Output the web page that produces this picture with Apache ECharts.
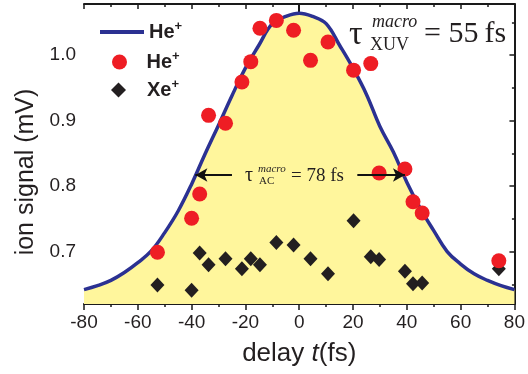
<!DOCTYPE html>
<html>
<head>
<meta charset="utf-8">
<script src="https://cdn.jsdelivr.net/npm/echarts@6/dist/echarts.min.js"></script>
<style>html,body{margin:0;padding:0;background:#fff;}#c{width:528px;height:374px;}</style>
</head>
<body>
<div id="c"></div>
<script>
// Fitted curve (He+ autocorrelation)
var curveT = [-80,-75,-70,-65,-60,-55,-50,-45,-40,-35,-30,-25,-20,-15,-10,-5,0,5,10,15,20,25,30,35,40,45,50,55,60,65,70,75,80];
var curveV = [0.642,0.648,0.656,0.668,0.683,0.701,0.729,0.762,0.803,0.849,0.893,0.938,0.980,1.015,1.048,1.059,1.064,1.059,1.048,1.015,0.980,0.940,0.891,0.852,0.806,0.766,0.732,0.700,0.681,0.666,0.656,0.648,0.642];
// Measured data
var delays = [-52.7,-40,-37,-33.7,-27.4,-21.3,-18,-14.6,-8.5,-2.1,4.2,10.7,20.2,26.6,29.7,39.3,42.3,45.7,74.2];
var heVals = [0.699,0.751,0.788,0.908,0.896,0.959,0.990,1.041,1.053,1.038,0.992,1.020,0.977,0.987,0.820,0.826,0.776,0.759,0.686];
var xeVals = [0.649,0.641,0.698,0.680,0.689,0.674,0.689,0.680,0.714,0.710,0.689,0.666,0.747,0.692,0.688,0.670,0.651,0.652,0.674];
var yMajor = [0.7,0.8,0.9,1.0];
var yMinor = [0.65,0.75,0.85,0.95,1.05];
var arrowLevel = 0.817;

var yMin = 0.62, yMax = 1.078;
var SANS = 'Liberation Sans, Arial, sans-serif';
var SERIF = 'Liberation Serif, Times New Roman, serif';

function pairs(a,b){return a.map(function(v,i){return [v,b[i]];});}

var chart = echarts.init(document.getElementById('c'), null, {renderer:'canvas'});
var lineBlack = {show:true, lineStyle:{color:'#1a1a1a', width:2}};
var legText = {fontFamily:SANS, fontWeight:'bold', fontSize:20, color:'#231f20',
  rich:{b:{fontFamily:SANS, fontWeight:'bold', fontSize:20, color:'#231f20'},
        s:{fontFamily:SANS, fontWeight:'bold', fontSize:13, color:'#231f20', padding:[0,0,11,0]}}};
function legFmt(n){return n==='Xe' ? '{b|Xe}{s|+}' : '{b|He}{s|+}';}
var option = {
  animation:false,
  grid:{left:84, right:12, top:4, bottom:70},
  legend:[
    {left:93, top:15, itemWidth:44, itemHeight:15,
     data:[{name:'HeFit', itemStyle:{opacity:0}, lineStyle:{width:4, color:'#2b3192'}}],
     textStyle:legText, formatter:legFmt},
    {left:107, top:45, itemWidth:44, itemHeight:15, data:['He'], textStyle:legText, formatter:legFmt},
    {left:106, top:73, itemWidth:15, itemHeight:15, data:['Xe'],
     textStyle:Object.assign({}, legText, {padding:[0,0,0,16]}), formatter:legFmt}
  ],
  xAxis:[
    {type:'value', min:-80, max:80, interval:20, position:'bottom',
     axisLine:lineBlack, splitLine:{show:false},
     axisTick:{show:true, inside:false, length:6, lineStyle:{color:'#1a1a1a', width:1.5}},
     minorTick:{show:true, splitNumber:2, length:3, lineStyle:{color:'#1a1a1a', width:1.5}},
     axisLabel:{fontFamily:SANS, fontSize:19, color:'#231f20', margin:9},
     name:'{n|delay }{i|t}{n|(fs)}', nameLocation:'middle', nameGap:37,
     nameTextStyle:{rich:{n:{fontFamily:SANS, fontSize:26, color:'#231f20'}, i:{fontFamily:SANS, fontStyle:'italic', fontSize:26, color:'#231f20'}}}
    },
    {type:'value', min:-80, max:80, interval:20, position:'top',
     axisLine:lineBlack, splitLine:{show:false},
     axisTick:{show:true, inside:true, length:5, lineStyle:{color:'#1a1a1a', width:1.5}},
     minorTick:{show:true, splitNumber:2, length:3, lineStyle:{color:'#1a1a1a', width:1.5}},
     axisLabel:{show:false}}
  ],
  yAxis:[
    {type:'value', min:yMin, max:yMax, position:'left',
     axisLine:lineBlack, splitLine:{show:false},
     axisTick:{show:true, inside:false, length:5, customValues:yMajor, lineStyle:{color:'#1a1a1a', width:1.5}},
     axisLabel:{customValues:yMajor, fontFamily:SANS, fontSize:19, color:'#231f20', margin:8,
       formatter:function(v){return v.toFixed(1);}},
     name:'ion signal (mV)', nameLocation:'middle', nameRotate:90, nameGap:33,
     nameTextStyle:{fontFamily:SANS, fontSize:25, color:'#231f20', padding:[0,36,0,0]}
    },
    {type:'value', min:yMin, max:yMax, position:'left',
     axisLine:{show:false}, splitLine:{show:false},
     axisTick:{show:true, inside:false, length:2.5, customValues:yMinor, lineStyle:{color:'#1a1a1a', width:1.5}},
     axisLabel:{show:false}},
    {type:'value', min:yMin, max:yMax, position:'right',
     axisLine:lineBlack, splitLine:{show:false},
     axisTick:{show:true, inside:true, length:5, customValues:yMajor, lineStyle:{color:'#1a1a1a', width:1.5}},
     axisLabel:{show:false}},
    {type:'value', min:yMin, max:yMax, position:'right',
     axisLine:{show:false}, splitLine:{show:false},
     axisTick:{show:true, inside:true, length:2.5, customValues:yMinor, lineStyle:{color:'#1a1a1a', width:1.5}},
     axisLabel:{show:false}}
  ],
  series:[
    {name:'HeFit', type:'line', data:pairs(curveT,curveV), smooth:0.4, symbol:'none', z:1,
     lineStyle:{color:'#2b3192', width:3.5}, itemStyle:{color:'#2b3192'},
     areaStyle:{color:'#fff69c', opacity:1, origin:'start'},
     markLine:{silent:true, symbol:['none','arrow'], symbolSize:[10,12], label:{show:false},
       lineStyle:{color:'#111', width:2, type:'solid'},
       data:[[{coord:[-25,arrowLevel]},{coord:[-38.6,arrowLevel]}],
             [{coord:[21.6,arrowLevel]},{coord:[39.3,arrowLevel]}]]}
    },
    {name:'He', type:'scatter', data:pairs(delays,heVals), symbol:'circle', symbolSize:15, z:4,
     itemStyle:{color:'#ee1d24', opacity:1}},
    {name:'Xe', type:'scatter', data:pairs(delays,xeVals), symbol:'diamond', symbolSize:[14,15], z:3,
     itemStyle:{color:'#231f20', opacity:1}}
  ],
  graphic:[
    {type:'text', z:100, left:349, top:18, style:{text:'τ', fontFamily:SERIF, fontSize:34, fill:'#231f20'}},
    {type:'text', z:100, left:372, top:13, style:{text:'macro', fontFamily:SERIF, fontStyle:'italic', fontSize:18, fill:'#231f20'}},
    {type:'text', z:100, left:370, top:36, style:{text:'XUV', fontFamily:SERIF, fontSize:18, fill:'#231f20'}},
    {type:'text', z:100, left:424, top:19, style:{text:'= 55\u2009fs', fontFamily:SERIF, fontSize:30, fill:'#231f20'}},
    {type:'text', z:100, left:245, top:166, style:{text:'τ', fontFamily:SERIF, fontSize:20, fill:'#231f20'}},
    {type:'text', z:100, left:258, top:164, style:{text:'macro', fontFamily:SERIF, fontStyle:'italic', fontSize:11, fill:'#231f20'}},
    {type:'text', z:100, left:259, top:176, style:{text:'AC', fontFamily:SERIF, fontSize:11, fill:'#231f20'}},
    {type:'text', z:100, left:291, top:167, style:{text:'= 78 fs', fontFamily:SERIF, fontSize:19, fill:'#231f20'}}
  ]
};
chart.setOption(option);
</script>
</body>
</html>
